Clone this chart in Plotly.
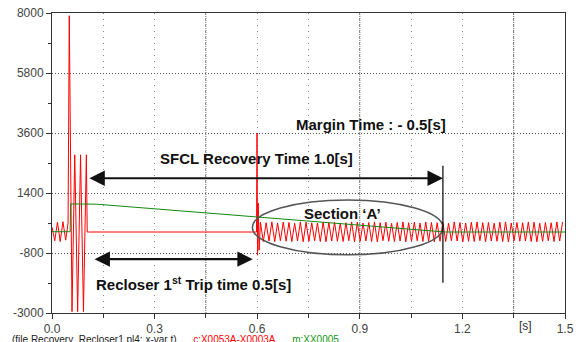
import plotly.graph_objects as go

# ---------------- data ----------------
# red trace c:X0053A-X0003A : pre-fault oscillation (t, value)
red_pre_t = [0.000, 0.008, 0.016, 0.024, 0.032, 0.040, 0.047]
red_pre_v = [150, -350, 330, -380, 350, -330, 300]

# fault transient, limited current, reclosing spike at 0.6 s
red_tr_t = [0.0505, 0.0585, 0.0665, 0.0750, 0.0835, 0.0920, 0.1005, 0.1030,
            0.5980, 0.5995, 0.6010, 0.6030, 0.6055]
red_tr_v = [7900, -2950, 2800, -2950, 2800, -2950, 2800, -30,
            -30, 3600, -880, 1030, -700]

# steady-state oscillation after reclosing (peaks / troughs per half cycle)
red_ss_start = 0.6095
red_half_cycle = 1 / 120
red_ss_peaks = [330, 310, 340, 300, 330, 320, 290, 340, 330, 310, 300, 340, 320, 330,
                290, 310, 340, 330, 300, 320, 340, 310, 330, 290, 320, 340, 310, 330,
                300, 340, 320, 310, 330, 290, 340, 320, 300, 330, 340, 310, 320, 290,
                330, 340, 300, 320, 310, 340, 330, 290, 320, 310, 340, 330]
red_ss_troughs = [-380, -360, -390, -350, -370, -380, -360, -390, -370, -350, -380, -390,
                  -360, -370, -380, -350, -390, -370, -360, -380, -390, -350, -370, -380,
                  -360, -390, -370, -350, -380, -360, -390, -370, -380, -350, -360, -390,
                  -370, -380, -350, -390, -360, -370, -380, -390, -350, -370, -360, -380,
                  -390, -370, -350, -380, -360, -390]

# green trace m:XX0005
green_t = [0.000, 0.053, 0.0545, 0.13, 1.15, 1.50]
green_v = [-20, -20, 1000, 990, -30, -30]

# axis ticks
x_ticks = [0.0, 0.3, 0.6, 0.9, 1.2, 1.5]
x_ticklabels = ["0.0", "0.3", "0.6", "0.9", "1.2", "1.5"]
y_ticks = [-3000, -800, 1400, 3600, 5800, 8000]
y_ticklabels = ["-3000", "-800", "1400", "3600", "5800", "8000"]
dense_grid_x = [0.45, 0.9, 1.35]

# annotation anchors
sfcl_arrow = dict(x0=0.105, x1=1.143, y=1940)
recl_arrow = dict(x0=0.120, x1=0.587, y=-1026)
margin_line = dict(x=1.143, y0=-1890, y1=2400)
section_ellipse = dict(x0=0.586, x1=1.143, y0=-868, y1=1145)

# ---------------- build series ----------------
ss_t, ss_v = [], []
n = min(len(red_ss_peaks), len(red_ss_troughs))
k = 0
for i in range(n):
    for v in (red_ss_peaks[i], red_ss_troughs[i]):
        t = red_ss_start + k * red_half_cycle
        if t <= 1.5:
            ss_t.append(t)
            ss_v.append(v)
        k += 1

red_t = red_pre_t + red_tr_t + ss_t
red_v = red_pre_v + red_tr_v + ss_v

fig = go.Figure()
fig.add_trace(go.Scatter(x=red_t, y=red_v, mode="lines",
                         line=dict(color="#ff0000", width=1), showlegend=False))
fig.add_trace(go.Scatter(x=green_t, y=green_v, mode="lines",
                         line=dict(color="#118811", width=1), showlegend=False))

TXT = "#111111"
FONT = "Liberation Sans"

# dense vertical grid lines
for gx in dense_grid_x:
    fig.add_shape(type="line", xref="x", yref="paper", x0=gx, x1=gx, y0=0, y1=1,
                  line=dict(color="#666666", width=1, dash="1px,1px"), layer="below")

# ellipse Section 'A'
fig.add_shape(type="circle", xref="x", yref="y",
              x0=section_ellipse["x0"], x1=section_ellipse["x1"],
              y0=section_ellipse["y0"], y1=section_ellipse["y1"],
              line=dict(color="#555555", width=1.5))

# margin vertical line
fig.add_shape(type="line", xref="x", yref="y",
              x0=margin_line["x"], x1=margin_line["x"],
              y0=margin_line["y0"], y1=margin_line["y1"],
              line=dict(color="#000000", width=1.2))

# double arrows
for a in (sfcl_arrow, recl_arrow):
    fig.add_annotation(x=a["x1"], y=a["y"], ax=a["x0"], ay=a["y"],
                       xref="x", yref="y", axref="x", ayref="y",
                       text="", showarrow=True, arrowside="end+start",
                       arrowhead=2, startarrowhead=2, arrowsize=1.4, startarrowsize=1.4,
                       arrowwidth=2.2, arrowcolor=TXT, standoff=0, startstandoff=0)

labels = [
    (0.934, 3926, "<b>Margin Time : - 0.5[s]</b>"),
    (0.597, 2671, "<b>SFCL Recovery Time 1.0[s]</b>"),
    (0.414, -1904, "<b>Recloser 1<sup>st</sup> Trip time 0.5[s]</b>"),
    (0.850, 632, "<b>Section ‘A’</b>"),
]
for x, y, t in labels:
    fig.add_annotation(x=x, y=y, xref="x", yref="y", text=t, showarrow=False,
                       font=dict(family=FONT, size=15, color=TXT))

# unit label
fig.add_annotation(x=1.385, y=0, xref="x", yref="paper", text="[s]", showarrow=False,
                   yanchor="top", yshift=-4, font=dict(family=FONT, size=12, color="#333333"))

# footer text
fig.add_annotation(x=0, y=0, xref="paper", yref="paper", xanchor="left", yanchor="top",
                   xshift=-42, yshift=-19, showarrow=False,
                   text=("(file Recovery_Recloser1.pl4; x-var t)&nbsp;&nbsp;&nbsp;&nbsp;&nbsp;&nbsp;"
                         "<span style='color:#ff0000'>c:X0053A-X0003A</span>"
                         "&nbsp;&nbsp;&nbsp;&nbsp;&nbsp;&nbsp;"
                         "<span style='color:#119911'>m:XX0005</span>"),
                   font=dict(family=FONT, size=10, color="#222222"))

fig.update_xaxes(range=[0, 1.5], tickmode="array", tickvals=x_ticks, ticktext=x_ticklabels,
                 ticks="outside", ticklen=5, tickcolor="#333333", automargin=False,
                 showline=True, linecolor="#333333", linewidth=1, mirror=True,
                 showgrid=True, gridcolor="#888888", griddash="1px,5px", gridwidth=1,
                 minor=dict(dtick=0.15, tick0=0, ticks="outside", ticklen=4,
                            tickcolor="#333333", showgrid=True, gridcolor="#888888",
                            griddash="1px,5px"),
                 zeroline=False, tickfont=dict(family=FONT, size=12, color="#444444"))
fig.update_yaxes(range=[-3000, 8000], tickmode="array", tickvals=y_ticks, ticktext=y_ticklabels,
                 ticks="outside", ticklen=5, tickcolor="#333333", automargin=False,
                 showline=True, linecolor="#333333", linewidth=1, mirror=True,
                 showgrid=True, gridcolor="#555555", griddash="1px,2px", gridwidth=1,
                 minor=dict(dtick=1100, tick0=-3000, ticks="outside", ticklen=3,
                            tickcolor="#333333", showgrid=False),
                 zeroline=False, tickfont=dict(family=FONT, size=12, color="#444444"))

fig.update_layout(width=576, height=342,
                  margin=dict(l=52, r=11, t=13, b=29, autoexpand=False),
                  paper_bgcolor="white", plot_bgcolor="white",
                  font=dict(family=FONT))

fig.write_html("out.html", config={"displayModeBar": False},
               post_script="document.body.style.margin='0px';"
                           "document.body.style.overflow='hidden';")
